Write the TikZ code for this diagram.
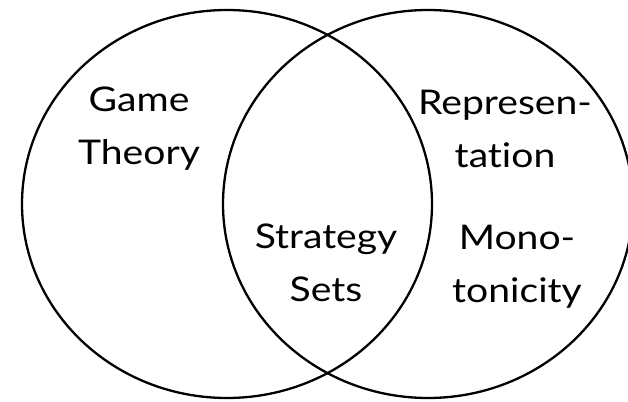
\documentclass[tikz,border=0pt]{standalone}
\usepackage{fontspec}
\setmainfont[FakeStretch=1.15,Ligatures={NoCommon}]{Lato}
\begin{document}
\begin{tikzpicture}[x=1pt,y=-1pt,
  setline/.style={line width=2.3pt, black},
  lbl/.style={align=center, anchor=base, inner sep=0pt, font=\fontsize{34}{53}\selectfont}]
\useasboundingbox (0,0) rectangle (628,401);
\clip (0,0) rectangle (628,401);
\draw[setline] (227,204) ellipse [x radius=205pt, y radius=194pt];
\draw[setline] (428,204) ellipse [x radius=205pt, y radius=194pt];
\node[lbl] (gt) at (139,164) {Game\\Theory};
\node[lbl] (rep) at (505,167) {Represen-\\tation};
\node[lbl] (ss) at (326,301) {Strategy\\Sets};
\node[lbl] (mono) at (517,302) {Mono-\\tonicity};
\end{tikzpicture}
\end{document}
